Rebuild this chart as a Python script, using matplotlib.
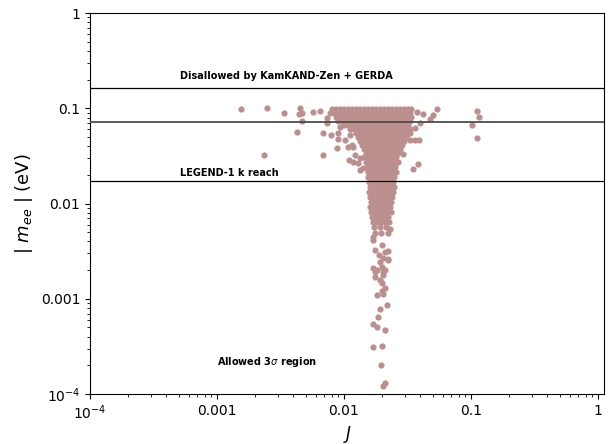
import numpy as np
import matplotlib
matplotlib.use("Agg")
import matplotlib.pyplot as plt

# dense core of the scan, one row of points per |m_ee| value
core_mee = [0.0985, 0.0891, 0.0809, 0.0735, 0.0667, 0.0606, 0.0550, 0.0499,
            0.0453, 0.0411, 0.0373, 0.0339, 0.0308, 0.0273, 0.0242, 0.0214,
            0.0190, 0.0168, 0.0149, 0.0132, 0.0117, 0.0104, 0.00919, 0.00814,
            0.00722, 0.00639, 0.00567, 0.00488]
core_J = [
    [0.00805, 0.00865, 0.00931, 0.01000, 0.01075, 0.01156, 0.01243, 0.01337, 0.01437, 0.01545, 0.01661,
     0.01786, 0.01920, 0.02065, 0.02220, 0.02387, 0.02567, 0.02760, 0.02968, 0.03191, 0.03369],
    [0.00776, 0.00834, 0.00897, 0.00965, 0.01037, 0.01115, 0.01199, 0.01289, 0.01386, 0.01490, 0.01602,
     0.01723, 0.01852, 0.01992, 0.02141, 0.02302, 0.02476, 0.02662, 0.02862, 0.03077, 0.03309],
    [0.00865, 0.00931, 0.01000, 0.01075, 0.01156, 0.01243, 0.01337, 0.01437, 0.01545, 0.01661, 0.01786,
     0.01920, 0.02065, 0.02220, 0.02387, 0.02567, 0.02760, 0.02968, 0.03191, 0.03369],
    [0.00897, 0.00965, 0.01037, 0.01115, 0.01199, 0.01289, 0.01386, 0.01490, 0.01602, 0.01723, 0.01852,
     0.01992, 0.02141, 0.02302, 0.02476, 0.02662, 0.02862, 0.03077, 0.03309],
    [0.01000, 0.01075, 0.01156, 0.01243, 0.01337, 0.01437, 0.01545, 0.01661, 0.01786, 0.01920, 0.02065,
     0.02220, 0.02387, 0.02567, 0.02760, 0.02968, 0.03191],
    [0.01115, 0.01199, 0.01289, 0.01386, 0.01490, 0.01602, 0.01723, 0.01852, 0.01992, 0.02141, 0.02302,
     0.02476, 0.02662, 0.02862, 0.03077, 0.03309],
    [0.01243, 0.01337, 0.01437, 0.01545, 0.01661, 0.01786, 0.01920, 0.02065, 0.02220, 0.02387, 0.02567,
     0.02760, 0.02968, 0.03191],
    [0.01289, 0.01386, 0.01490, 0.01602, 0.01723, 0.01852, 0.01992, 0.02141, 0.02302, 0.02476, 0.02662,
     0.02862, 0.03077],
    [0.01337, 0.01437, 0.01545, 0.01661, 0.01786, 0.01920, 0.02065, 0.02220, 0.02387, 0.02567, 0.02760, 0.02968],
    [0.01386, 0.01490, 0.01602, 0.01723, 0.01852, 0.01992, 0.02141, 0.02302, 0.02476, 0.02662, 0.02862],
    [0.01437, 0.01545, 0.01661, 0.01786, 0.01920, 0.02065, 0.02220, 0.02387, 0.02567, 0.02760],
    [0.01490, 0.01602, 0.01723, 0.01852, 0.01992, 0.02141, 0.02302, 0.02476, 0.02662],
    [0.01437, 0.01545, 0.01661, 0.01786, 0.01920, 0.02065, 0.02220, 0.02387, 0.02567],
    [0.01490, 0.01602, 0.01723, 0.01852, 0.01992, 0.02141, 0.02302, 0.02476, 0.02662],
    [0.01517, 0.01631, 0.01755, 0.01886, 0.02028, 0.02180, 0.02344, 0.02521],
    [0.01545, 0.01661, 0.01786, 0.01920, 0.02065, 0.02220, 0.02387, 0.02567],
    [0.01545, 0.01661, 0.01786, 0.01920, 0.02065, 0.02220, 0.02387, 0.02476],
    [0.01573, 0.01692, 0.01819, 0.01956, 0.02103, 0.02261, 0.02431],
    [0.01602, 0.01723, 0.01852, 0.01992, 0.02141, 0.02302, 0.02476],
    [0.01573, 0.01692, 0.01819, 0.01956, 0.02103, 0.02261, 0.02431],
    [0.01602, 0.01723, 0.01852, 0.01992, 0.02141, 0.02302, 0.02387],
    [0.01631, 0.01755, 0.01886, 0.02028, 0.02180, 0.02344],
    [0.01602, 0.01723, 0.01852, 0.01992, 0.02141, 0.02302],
    [0.01631, 0.01755, 0.01886, 0.02028, 0.02180, 0.02344],
    [0.01661, 0.01786, 0.01920, 0.02065, 0.02220],
    [0.01692, 0.01819, 0.01956, 0.02103, 0.02261],
    [0.01723, 0.01920, 0.02141],
    [0.01754, 0.01956, 0.02220],
]

# sparse points: the low-|m_ee| tail and the outliers around the core
sparse_J = [0.0169, 0.0230, 0.0222, 0.0222, 0.0169, 0.0175, 0.0203, 0.0175, 0.0203, 0.0192,
            0.0199, 0.0210, 0.0199, 0.0203, 0.0182, 0.0218, 0.0192, 0.0185, 0.0169, 0.0182,
            0.0210, 0.0169, 0.0199, 0.0195, 0.0210, 0.0203,
            0.0169, 0.0199, 0.0175, 0.0210, 0.0188, 0.0203, 0.0222, 0.0192, 0.0199, 0.0182, 0.0210,
            0.00155, 0.00248, 0.00337, 0.00451, 0.00443, 0.00467, 0.00467, 0.00570, 0.00647,
            0.00427, 0.00234, 0.00684, 0.00684, 0.00735, 0.00735, 0.00790, 0.00897, 0.00897,
            0.00881, 0.00931, 0.0111, 0.0116, 0.0109, 0.0117, 0.0129, 0.0141, 0.0107, 0.0117,
            0.0102, 0.0122, 0.0134, 0.0134,
            0.0376, 0.0419, 0.0540, 0.0502, 0.0475, 0.0396, 0.0362, 0.0331, 0.0390, 0.0362,
            0.0331, 0.0292, 0.0383, 0.0349, 0.111, 0.116, 0.102, 0.111]
sparse_mee = [0.00445, 0.00540, 0.00317, 0.00261, 0.00210, 0.00191, 0.00191, 0.00169, 0.00177, 0.00157,
              0.00146, 0.00130, 0.00121, 0.00112, 0.00109, 0.00086, 0.00078, 0.000643, 0.000543, 0.000505,
              0.000470, 0.000312, 0.000319, 0.000201, 0.000130, 0.000121,
              0.00414, 0.00367, 0.00325, 0.00310, 0.00288, 0.00268, 0.00255, 0.00243, 0.00216, 0.00200, 0.00200,
              0.0982, 0.1006, 0.0891, 0.1006, 0.0870, 0.0891, 0.0735, 0.0913, 0.0936,
              0.0563, 0.0323, 0.0550, 0.0323, 0.0790, 0.0700, 0.0524, 0.0550, 0.0475,
              0.0383, 0.0636, 0.0524, 0.0411, 0.0286, 0.0273, 0.0266, 0.0236, 0.0392, 0.0392,
              0.0464, 0.0323, 0.0225, 0.0300,
              0.0913, 0.0870, 0.0982, 0.0849, 0.0771, 0.0700, 0.0620, 0.0550, 0.0464, 0.0464,
              0.0464, 0.0331, 0.0260, 0.0230, 0.0936, 0.0809, 0.0667, 0.0487]

# experimental bounds on |m_ee| (eV)
limit_values = [0.163, 0.072, 0.0172]
limit_colors = ["black", "0.3", "black"]
limit_widths = [0.9, 1.3, 0.9]

x_ticks = [1e-4, 1e-3, 1e-2, 1e-1, 1]
x_ticklabels = ["$10^{-4}$", "0.001", "0.01", "0.1", "1"]
y_ticks = [1e-4, 1e-3, 1e-2, 1e-1, 1]
y_ticklabels = ["$10^{-4}$", "0.001", "0.01", "0.1", "1"]

J = []
mee = []
for m, row in zip(core_mee, core_J):
    J.extend(row)
    mee.extend([m] * len(row))
J.extend(sparse_J)
mee.extend(sparse_mee)

fig = plt.figure(figsize=(6.16, 4.44), dpi=100)
ax = fig.add_axes([0.146, 0.1126, 0.835, 0.858])

ax.scatter(J, mee, s=20, color="rosybrown", linewidths=0, zorder=2)
for val, col, lw in zip(limit_values, limit_colors, limit_widths):
    ax.axhline(val, color=col, lw=lw, zorder=3)

ax.set_xscale("log")
ax.set_yscale("log")
ax.set_xlim(1e-4, 1.12)
ax.set_ylim(1e-4, 1)
ax.set_xticks(x_ticks)
ax.set_xticklabels(x_ticklabels)
ax.set_yticks(y_ticks)
ax.set_yticklabels(y_ticklabels)
ax.tick_params(labelsize=10)

ax.text(5.1e-4, 0.218, "Disallowed by KamKAND-Zen + GERDA", fontsize=7,
        fontweight="bold", va="center")
ax.text(5.1e-4, 0.0209, "LEGEND-1 k reach", fontsize=7, fontweight="bold", va="center")
ax.text(1e-3, 2.17e-4, r"Allowed 3$\sigma$ region", fontsize=7, fontweight="bold", va="center")

ax.set_xlabel("$J$", fontsize=12, labelpad=1)
ax.set_ylabel("| $m_{ee}$ | (eV)", fontsize=13)

fig.savefig("out.png", dpi=100)
